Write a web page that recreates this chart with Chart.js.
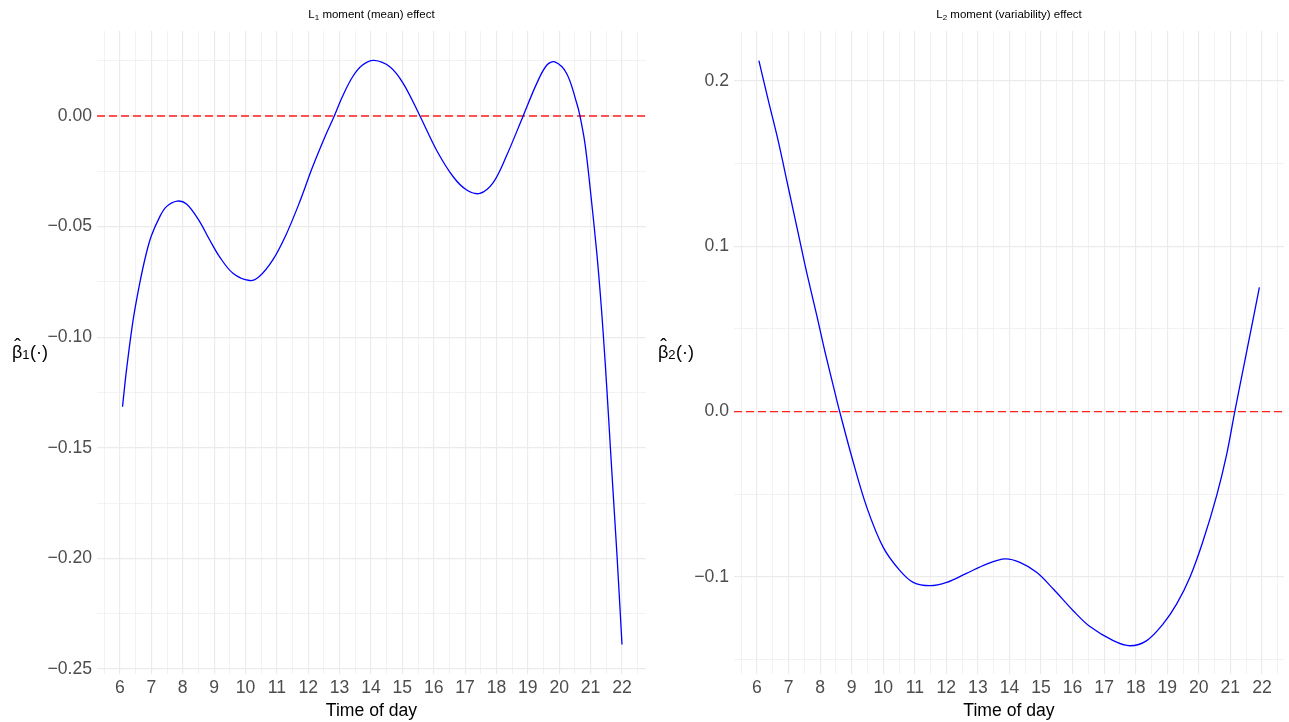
<!DOCTYPE html>
<html><head><meta charset="utf-8">
<script src="https://cdn.jsdelivr.net/npm/chart.js@4.4.0/dist/chart.umd.min.js"></script>
<style>
html,body{margin:0;padding:0;background:#fff;width:1289px;height:722px;overflow:hidden}
#c1{position:absolute;left:0;top:0}
#c2{position:absolute;left:650px;top:0}
</style></head><body>
<canvas id="c1" width="660" height="722"></canvas>
<canvas id="c2" width="639" height="722"></canvas>
<script>
// ---- data ----
const hourTicks = [6,7,8,9,10,11,12,13,14,15,16,17,18,19,20,21,22];
const hourMinorTicks = [5.5,6.5,7.5,8.5,9.5,10.5,11.5,12.5,13.5,14.5,15.5,16.5,17.5,18.5,19.5,20.5,21.5,22.5];

const meanHours = [6.08,6.21,6.42,6.63,6.82,7.0,7.27,7.48,7.82,8.12,8.51,8.86,9.17,9.60,10.13,10.44,10.87,11.29,11.71,12.14,12.56,12.83,13.09,13.41,13.72,14.10,14.61,15.03,15.56,16.09,16.62,17.05,17.47,17.90,18.32,18.85,19.28,19.60,19.86,20.24,20.56,20.66,20.82,20.98,21.19,21.30,21.40,21.52,21.63,21.74,21.85,22.0];
const meanEffect = [-0.1315,-0.1145,-0.0921,-0.0756,-0.0632,-0.0542,-0.0455,-0.0410,-0.0385,-0.0398,-0.0471,-0.0561,-0.0636,-0.0711,-0.0744,-0.0726,-0.0651,-0.0538,-0.0395,-0.0230,-0.0085,0.0,0.0088,0.0176,0.0229,0.0251,0.0221,0.0146,0.0,-0.0155,-0.0275,-0.0335,-0.0350,-0.0300,-0.0180,0.0,0.0146,0.0229,0.0244,0.0191,0.0056,0.0,-0.0125,-0.0320,-0.0610,-0.0790,-0.0980,-0.1240,-0.1500,-0.1755,-0.2010,-0.2390];

const varHours = [6.06,6.36,6.67,6.99,7.31,7.57,7.89,8.15,8.47,8.62,9.02,9.48,10.00,10.53,10.95,11.48,12.01,12.64,13.28,13.86,14.33,14.86,15.39,16.02,16.55,17.29,17.82,18.35,18.87,19.30,19.72,20.14,20.57,20.88,21.14,21.41,21.67,21.92];
const varEffect = [0.2123,0.1881,0.1639,0.1357,0.1075,0.0845,0.0585,0.0365,0.0115,0.0,-0.0285,-0.0579,-0.0821,-0.0962,-0.1033,-0.1053,-0.1033,-0.0978,-0.0922,-0.0891,-0.0912,-0.0972,-0.1073,-0.1204,-0.1300,-0.1385,-0.1416,-0.1385,-0.1284,-0.1163,-0.1002,-0.0780,-0.0505,-0.0262,0.0,0.0260,0.0510,0.0752];

const meanYTicks = [0, -0.05, -0.10, -0.15, -0.20, -0.25];
const meanYMinorTicks = [0.025, -0.025, -0.075, -0.125, -0.175, -0.225];
const varYTicks = [0.2, 0.1, 0.0, -0.1];
const varYMinorTicks = [0.15, 0.05, -0.05, -0.15];
const referenceLevel = 0;

const FONT = '"Liberation Sans", Arial, sans-serif';

function fmt(v, d) {
  const s = Math.abs(v).toFixed(d);
  return (v < -1e-9 ? '\u2212' : '') + s;
}
function isIn(arr, v) { return arr.some(a => Math.abs(a - v) < 1e-9); }

const textPlugin = {
  id: 'panelText',
  afterDraw(chart, args, o) {
    const ctx = chart.ctx, a = chart.chartArea;
    ctx.save();
    ctx.fillStyle = '#000';
    ctx.textAlign = 'left';
    ctx.textBaseline = 'alphabetic';
    const f1 = '11.5px ' + FONT, f1s = '8px ' + FONT;
    ctx.font = f1; const wL = ctx.measureText(o.tMain).width; const wR = ctx.measureText(o.tRest).width;
    ctx.font = f1s; const wS = ctx.measureText(o.tSub).width;
    let x = (a.left + a.right) / 2 - (wL + wS + wR) / 2;
    const by = 18;
    ctx.font = f1; ctx.fillText(o.tMain, x, by); x += wL;
    ctx.font = f1s; ctx.fillText(o.tSub, x, by + 2); x += wS;
    ctx.font = f1; ctx.fillText(o.tRest, x, by);
    const yb = 358;
    let yx = o.yx;
    const fb = '18px ' + FONT, fs = '13px ' + FONT;
    ctx.font = fb;
    const wb = ctx.measureText('\u03B2').width;
    ctx.fillText('\u03B2', yx, yb);
    ctx.textAlign = 'center';
    ctx.font = '20px ' + FONT;
    ctx.fillText('\u02C6', yx + wb / 2 + 0.5, yb - 5);
    ctx.textAlign = 'left';
    yx += wb;
    ctx.font = fs; ctx.fillText(o.ySub, yx, yb + 1); yx += ctx.measureText(o.ySub).width;
    ctx.font = fb; ctx.fillText('(\u00B7)', yx + 0.5, yb);
    ctx.restore();
  }
};

function makeChart(id, hours, values, o) {
  const allY = o.yMajor.concat(o.yMinor).sort((p, q) => p - q);
  const allX = hourTicks.concat(hourMinorTicks).sort((p, q) => p - q);
  return new Chart(document.getElementById(id), {
    type: 'line',
    plugins: [textPlugin],
    data: {
      datasets: [
        { data: hours.map((h, i) => ({ x: h, y: values[i] })), borderColor: '#0000ff', borderWidth: 1.3,
          pointRadius: 0, fill: false, tension: 0.35 },
        { data: [{ x: o.xMin, y: referenceLevel }, { x: o.xMax, y: referenceLevel }], borderColor: '#ff2020',
          borderWidth: 1.4, borderDash: [8, 4], pointRadius: 0, fill: false }
      ]
    },
    options: {
      responsive: false, animation: false, devicePixelRatio: 1,
      layout: { padding: { top: 31, left: 0, right: o.padRight, bottom: 0 } },
      plugins: {
        legend: { display: false }, tooltip: { enabled: false },
        panelText: { tMain: 'L', tSub: o.sub, tRest: o.titleRest, ySub: o.sub, yx: o.yTitleX }
      },
      scales: {
        x: {
          type: 'linear', min: o.xMin, max: o.xMax, bounds: 'data',
          afterBuildTicks: s => { s.ticks = allX.map(v => ({ value: v })); },
          afterFit: s => { s.height = 48; },
          border: { display: false },
          grid: { color: '#ebebeb', drawTicks: false,
                  lineWidth: c => (c.tick && isIn(hourTicks, c.tick.value)) ? 1.15 : 0.65 },
          ticks: { autoSkip: false, maxRotation: 0, minRotation: 0, padding: 4, color: '#4d4d4d',
                   font: { family: FONT, size: 17.6 },
                   callback: v => isIn(hourTicks, v) ? String(Math.round(v)) : '' },
          title: { display: true, text: 'Time of day', color: '#000', font: { family: FONT, size: 17.6 },
                   padding: { top: 4, bottom: 0 } }
        },
        y: {
          type: 'linear', min: o.yMin, max: o.yMax, bounds: 'data',
          afterBuildTicks: s => { s.ticks = allY.filter(v => v >= o.yMin && v <= o.yMax).map(v => ({ value: v })); },
          afterFit: s => { s.width = o.yWidth; },
          border: { display: false },
          grid: { color: '#ebebeb', drawTicks: false,
                  lineWidth: c => (c.tick && isIn(o.yMajor, c.tick.value)) ? 1.15 : 0.65 },
          ticks: { autoSkip: false, padding: 5, color: '#4d4d4d', font: { family: FONT, size: 17.6 },
                   callback: v => isIn(o.yMajor, v) ? fmt(v, o.dec) : '' }
        }
      }
    }
  });
}

makeChart('c1', meanHours, meanEffect, {
  xMin: 5.267, xMax: 22.765, yMin: -0.2523, yMax: 0.0384,
  yMajor: meanYTicks, yMinor: meanYMinorTicks, dec: 2,
  padRight: 14, yWidth: 97, yTitleX: 12, sub: '1', titleRest: ' moment (mean) effect'
});
makeChart('c2', varHours, varEffect, {
  xMin: 5.271, xMax: 22.70, yMin: -0.1587, yMax: 0.2302,
  yMajor: varYTicks, yMinor: varYMinorTicks, dec: 1,
  padRight: 5, yWidth: 84, yTitleX: 8, sub: '2', titleRest: ' moment (variability) effect'
});
</script>
</body></html>
